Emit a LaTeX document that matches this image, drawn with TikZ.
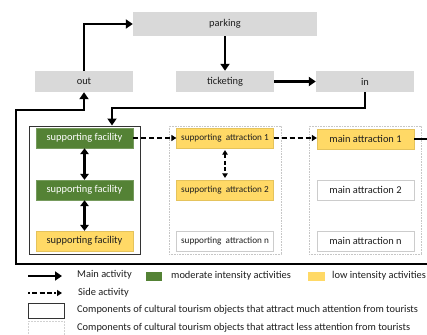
\documentclass[tikz,border=0pt]{standalone}
\usepackage{fontspec}
\setmainfont{Carlito}
\usetikzlibrary{arrows.meta}
\definecolor{boxgray}{RGB}{217,217,217}
\definecolor{modgreen}{RGB}{84,130,53}
\definecolor{lowyellow}{RGB}{255,217,102}
\definecolor{txt}{RGB}{30,30,30}
\tikzset{
  every node/.style={font=\fontsize{10.4}{12}\selectfont, text=txt, inner sep=0pt},
  smalltext/.style={font=\fontsize{9.2}{11}\selectfont},
  flowbox/.style={fill=boxgray, minimum width=98pt, minimum height=21pt},
  greenbox/.style={fill=modgreen, draw=modgreen!80!white, minimum width=97pt, minimum height=20pt, text=white},
  yellowbox/.style={fill=lowyellow, draw=lowyellow!90!black, line width=0.3pt, minimum width=97pt, minimum height=20pt},
  whitebox/.style={fill=white, draw=gray!40, line width=0.5pt, minimum width=97pt, minimum height=20pt},
  strongbox/.style={draw=black!80, line width=1pt, minimum width=111pt, minimum height=128pt},
  weakbox/.style={draw=gray!45, densely dotted, line width=0.6pt, minimum width=112pt, minimum height=128pt},
  mainflow/.style={line width=2.6pt, -{Triangle[length=7pt,width=9pt]}},
  twoway/.style={line width=2.6pt, {Triangle[length=6pt,width=8.5pt]}-{Triangle[length=6pt,width=8.5pt]}},
  sideflow/.style={line width=1.7pt, dash pattern=on 5pt off 3pt, -{Triangle[length=5pt,width=6pt]}},
  sidetwoway/.style={line width=1.7pt, dash pattern=on 4pt off 2.5pt, {Triangle[length=4.5pt,width=5.5pt]}-{Triangle[length=4.5pt,width=5.5pt]}},
  legtext/.style={anchor=west}
}
\begin{document}
\begin{tikzpicture}[x=1pt,y=-1pt]
\useasboundingbox[fill=white] (0,0) rectangle (427,334);

% access chain
\node[flowbox, minimum width=184pt, minimum height=24pt] (parking) at (225,24) {parking};
\node[flowbox] (out) at (84,81.5) {out};
\node[flowbox] (ticketing) at (225,81.5) {ticketing};
\node[flowbox] (in) at (365,81.5) {in};

% component groups
\node[strongbox] (gL) at (84.5,190) {};
\node[weakbox] (gM) at (225,190) {};
\node[weakbox] (gR) at (365,190) {};

\node[greenbox] (sf1) at (84.5,138) {supporting facility};
\node[greenbox] (sf2) at (84.5,190) {supporting facility};
\node[yellowbox] (sf3) at (84.5,241) {supporting facility};

\node[yellowbox, smalltext] (sa1) at (225,138) {supporting\ \ attraction 1};
\node[yellowbox, smalltext] (sa2) at (225,190) {supporting\ \ attraction 2};
\node[whitebox, smalltext] (san) at (225,241) {supporting\ \ attraction n};

\node[yellowbox] (ma1) at (365.5,139) {main attraction 1};
\node[whitebox] (ma2) at (365.5,190) {main attraction 2};
\node[whitebox] (man) at (365.5,241) {main attraction n};

% route coordinates
\coordinate (inturn) at (112,108);
\coordinate (rb) at (433,264);
\coordinate (lb) at (16,264);
\coordinate (lt) at (16,110);

% main activity
\draw[mainflow] (out.north) |- (parking.west);
\draw[mainflow] (parking.south) -- (ticketing.north);
\draw[mainflow] (ticketing.east) -- (in.west);
\draw[mainflow] (in.south) |- (inturn) -- (inturn |- gL.north);
\draw[mainflow] (ma1.east) -- (ma1.east -| rb) -- (rb) -- (lb) -- (lt) -| (out.south);
\draw[twoway] (sf1.south) -- (sf2.north);
\draw[twoway] (sf2.south) -- (sf3.north);

% side activity
\draw[sideflow] (sf1.east) -- (sa1.west);
\draw[sideflow] (sa1.east) -- (ma1.west |- sa1.east);
\path (sa1.south) ++(0,2) coordinate (s1) (sa2.north) ++(0,-2) coordinate (s2);
\draw[sidetwoway] (s1) -- (s2);

% legend
\coordinate (l1a) at (28,276);
\coordinate (l1b) at (62,276);
\draw[mainflow] (l1a) -- (l1b);
\node[legtext] (lt1) at (77,274.5) {Main activity};
\node[fill=modgreen, minimum width=16pt, minimum height=9pt] (lgreen) at (154,276.5) {};
\node[legtext] (lt2) at (171,276) {moderate intensity activities};
\node[fill=lowyellow, minimum width=17pt, minimum height=9pt] (lyellow) at (316.5,276.5) {};
\node[legtext] (lt3) at (332,276) {low intensity activities};

\coordinate (l2a) at (28,293);
\coordinate (l2b) at (62,293);
\draw[line width=1.7pt, dash pattern=on 1.5pt off 2.5pt on 5pt off 2.5pt on 5pt off 2.5pt on 5pt off 2pt, -{Triangle[length=5pt,width=6pt]}] (l2a) -- (l2b);
\node[legtext] (lt4) at (78,292.5) {Side activity};

\node[draw=black!80, line width=0.8pt, minimum width=36pt, minimum height=15pt] (lbox1) at (46,310.5) {};
\node[legtext] (lt5) at (77,310) {Components of cultural tourism objects that attract much attention from tourists};
\node[draw=gray!35, densely dotted, line width=0.5pt, minimum width=36pt, minimum height=15pt, anchor=north] (lbox2) at (46,321) {};
\node[legtext] (lt6) at (77,328) {Components of cultural tourism objects that attract less attention from tourists};
\end{tikzpicture}
\end{document}
